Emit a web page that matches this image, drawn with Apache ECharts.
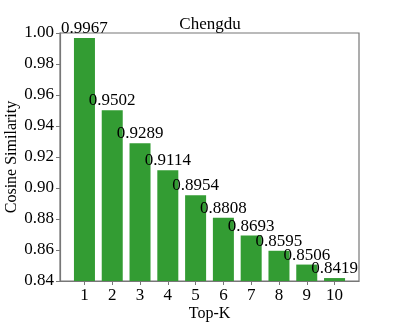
<!DOCTYPE html>
<html>
<head>
<meta charset="utf-8">
<script src="https://cdn.jsdelivr.net/npm/echarts@6/dist/echarts.min.js"></script>
<style>
  html, body { margin: 0; padding: 0; background: #fff; }
  #chart { width: 399px; height: 332px; }
</style>
</head>
<body>
<div id="chart"></div>
<script>
// data
var topK = [1, 2, 3, 4, 5, 6, 7, 8, 9, 10];
var similarity = [0.9967, 0.9502, 0.9289, 0.9114, 0.8954, 0.8808, 0.8693, 0.8595, 0.8506, 0.8419];

var font = 'Liberation Serif';
var chart = echarts.init(document.getElementById('chart'));

var barData = topK.map(function (k, i) { return [k, similarity[i]]; });

var option = {
    animation: false,
    backgroundColor: '#fff',
    title: {
        text: 'Chengdu',
        left: 205,
        top: 11,
        textAlign: 'center',
        textStyle: { fontFamily: font, fontSize: 17, fontWeight: 'normal', color: '#000' }
    },
    grid: {
        left: 60, top: 33, width: 299, height: 248,
        outerBoundsMode: 'none',
        containLabel: false,
        show: true, borderColor: '#777', borderWidth: 1.2, backgroundColor: 'transparent'
    },
    xAxis: {
        type: 'value',
        min: 0.12,
        max: 10.88,
        name: 'Top-K',
        nameLocation: 'middle',
        nameGap: 25,
        nameMoveOverlap: false,
        nameTextStyle: { fontFamily: font, fontSize: 16, color: '#000' },
        axisLine: { show: true, lineStyle: { color: '#777', width: 1.2 } },
        axisTick: { show: true, length: 4, customValues: topK, lineStyle: { color: '#777' } },
        axisLabel: {
            customValues: topK,
            fontFamily: font, fontSize: 17, color: '#000', margin: 6
        },
        splitLine: { show: false }
    },
    yAxis: {
        type: 'value',
        min: 0.84,
        max: 1.0,
        interval: 0.02,
        name: 'Cosine Similarity',
        nameLocation: 'middle',
        nameGap: 40,
        nameRotate: 90,
        nameMoveOverlap: false,
        nameTextStyle: { fontFamily: font, fontSize: 16, color: '#000' },
        axisLine: { show: true, lineStyle: { color: '#777', width: 1.2 } },
        axisTick: { show: true, length: 4, lineStyle: { color: '#777' } },
        axisLabel: {
            fontFamily: font, fontSize: 17, color: '#000', margin: 6,
            formatter: function (v) { return v.toFixed(2); }
        },
        splitLine: { show: false }
    },
    series: [{
        type: 'bar',
        data: barData,
        barWidth: 21,
        itemStyle: { color: '#339c33' },
        label: {
            show: true,
            position: 'top',
            distance: 1,
            fontFamily: font,
            fontSize: 17,
            color: '#000',
            formatter: function (p) { return p.value[1].toFixed(4); }
        }
    }]
};

chart.setOption(option);
</script>
</body>
</html>
